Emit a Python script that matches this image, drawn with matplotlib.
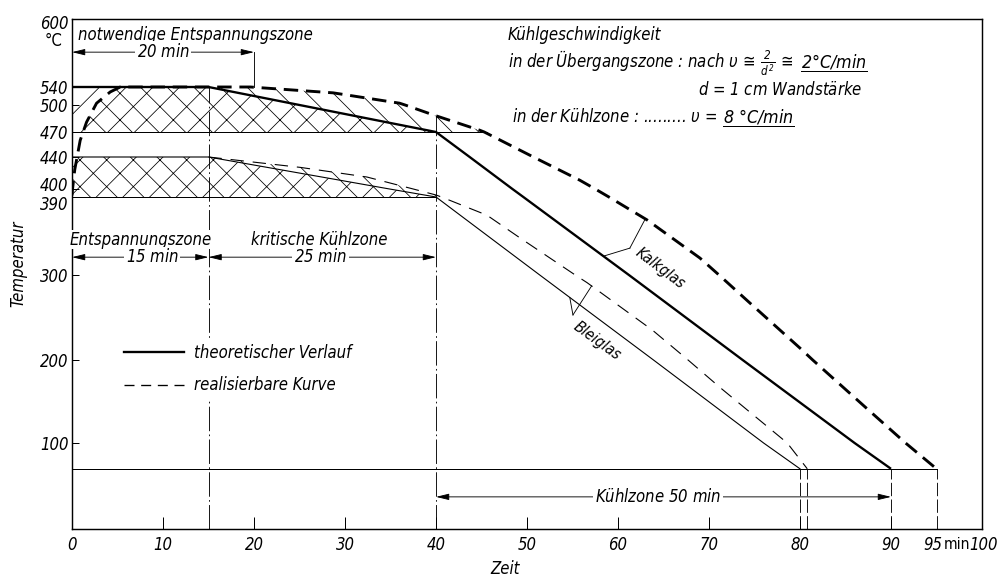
import numpy as np
import matplotlib
matplotlib.use('Agg')
import matplotlib.pyplot as plt
from matplotlib.lines import Line2D
import matplotlib.transforms as mtransforms

# ---------------- data ----------------
# schematic (non-uniform) temperature scale of the original drawing
temp_breaks = [0, 100, 200, 300, 390, 400, 440, 470, 500, 540, 600]
temp_scale = [0, 86, 169, 254, 332, 340, 372, 397, 424, 442, 510]

ytick_vals = [100, 200, 300, 390, 400, 440, 470, 500, 540, 600]
ytick_labels = ['100', '200', '300', '390', '400', '440', '470', '500', '540', '600']
xtick_vals = [0, 10, 20, 30, 40, 50, 60, 70, 80, 90, 95, 100]
xtick_labels = ['0', '10', '20', '30', '40', '50', '60', '70', '80', '90', '95', '100']

# Kalkglas
kalk_theo_t = [0, 15, 25, 40, 43.7, 48.4, 49.6, 61.2, 73.7, 86.0, 90]
kalk_theo_T = [540, 540, 500, 470, 440, 400, 390, 300, 200, 100, 70]
kalk_real_t = [0.0, 0.05, 0.3, 0.9, 1.6, 2.7, 4.2, 5.3, 19.6, 28.7, 36.0, 36.6, 39.7,
               44.8, 45.3, 50.7, 52.9, 55.8, 57.5, 59.0, 63.2, 69.0, 71.1, 74.5,
               80.0, 81.4, 87.4, 91.6, 95]
kalk_real_T = [392, 399, 424, 460, 481, 504, 529, 540, 540, 527, 504, 500, 489,
               472, 470, 440, 427.5, 411, 400, 390, 363.5, 319.6, 300, 267,
               214, 200, 141, 100, 70]
# Bleiglas
blei_theo_t = [0, 15, 34.9, 40, 51.4, 63.9, 76.0, 80]
blei_theo_T = [440, 440, 400, 390, 300, 200, 100, 70]
blei_real_t = [15, 25.1, 32.4, 37.5, 40.0, 40.6, 45.6, 49.2, 55.3, 56.6, 63.8, 67.7,
               71.2, 78.6, 80.8]
blei_real_T = [440, 427, 415, 400, 392.5, 390, 369, 343, 300, 291, 235, 200,
               167, 100, 70]

# zone boundaries / levels
kalk_low, blei_low, end_temp = 470, 390, 70
zone_times = [15, 40]
end_times = [80, 80.8, 90, 95]

# ---------------- style ----------------
DPI = 80
plt.rcParams['font.family'] = ['DejaVu Sans']
plt.rcParams['font.stretch'] = 'condensed'
plt.rcParams['font.style'] = 'italic'
plt.rcParams['mathtext.fontset'] = 'custom'
plt.rcParams['mathtext.rm'] = 'DejaVu Sans:stretch=condensed'
plt.rcParams['mathtext.it'] = 'DejaVu Sans:italic:stretch=condensed'
plt.rcParams['hatch.linewidth'] = 0.7
plt.rcParams['lines.scale_dashes'] = False
FS = 15

fig = plt.figure(figsize=(997 / DPI, 577 / DPI), dpi=DPI)
ax = fig.add_axes([72 / 997, 48 / 577, 910 / 997, 510 / 577])


def fwd(v):
    return np.interp(v, temp_breaks, temp_scale)


def inv(p):
    return np.interp(p, temp_scale, temp_breaks)


ax.set_yscale('function', functions=(fwd, inv))
ax.set_xlim(0, 100)
ax.set_ylim(0, 600)
for s in ax.spines.values():
    s.set_linewidth(1.3)

xtr = ax.get_xaxis_transform()

# ---------------- hatched zones ----------------
tg = np.linspace(0, 40, 1601)
kt = np.interp(tg, kalk_theo_t, kalk_theo_T)
kr = np.interp(tg, kalk_real_t, kalk_real_T)
bt = np.interp(tg, blei_theo_t, blei_theo_T)
br = np.interp(tg, blei_real_t, blei_real_T)
hk = dict(facecolor='none', edgecolor='black', linewidth=0)

top_both = np.minimum(kt, kr)
ax.fill_between(tg, kalk_low, top_both, where=top_both >= kalk_low, hatch='x', **hk)
low_left = np.maximum(kr, kalk_low)
ax.fill_between(tg, low_left, kt, where=(kt > low_left) & (tg < 15), hatch='/', **hk)

tg2 = np.linspace(15, 47, 1281)
kt2 = np.interp(tg2, kalk_theo_t, kalk_theo_T)
kr2 = np.interp(tg2, kalk_real_t, kalk_real_T)
lo2 = np.maximum(kt2, kalk_low)
ax.fill_between(tg2, lo2, kr2, where=kr2 > lo2, hatch='\\', **hk)

ax.fill_between(tg, blei_low, bt, hatch='x', **hk)
ax.fill_between(tg, bt, br, where=(tg >= 15) & (br > bt), hatch='\\', **hk)

# ---------------- level lines ----------------
ax.plot([0, 45.6], [kalk_low, kalk_low], color='black', lw=0.9)
ax.plot([0, 40], [blei_low, blei_low], color='black', lw=0.9)
ax.plot([0, 95], [end_temp, end_temp], color='black', lw=0.9)

dashdot = (0, (22, 3, 1.5, 3))
ax.plot([zone_times[0]] * 2, [0, 540], color='black', lw=0.8, ls=dashdot, zorder=1)
ax.plot([zone_times[1]] * 2, [0, np.interp(40, kalk_real_t, kalk_real_T)],
        color='black', lw=0.8, ls=dashdot, zorder=1)
for te in end_times:
    ax.plot([te, te], [0, end_temp], color='black', lw=0.8, ls=(0, (12, 3)), zorder=1)
ax.plot([20, 20], [fwd(540) / 510, 0.935], color='black', lw=0.8, transform=xtr)

# ---------------- curves ----------------
ax.plot(kalk_theo_t, kalk_theo_T, color='black', lw=2.1, solid_capstyle='butt', zorder=4)
ax.plot(kalk_real_t, kalk_real_T, color='black', lw=2.6, ls=(0, (13, 7)), zorder=4)
ax.plot(blei_theo_t, blei_theo_T, color='black', lw=1.0, zorder=4)
ax.plot(blei_real_t, blei_real_T, color='black', lw=1.0, ls=(0, (12, 8)), zorder=4)

# ---------------- ticks ----------------
ax.set_yticks(ytick_vals)
ax.set_yticklabels(ytick_labels, fontsize=FS)
ax.set_xticks(xtick_vals)
ax.set_xticklabels(xtick_labels, fontsize=FS)
ax.minorticks_off()
ax.tick_params(axis='y', direction='in', length=6, width=0.9, pad=3)
ax.tick_params(axis='x', direction='in', length=11, width=0.9, pad=6)
for tick in ax.xaxis.get_major_ticks():
    if tick.get_loc() in (0, 95, 100):
        tick.tick1line.set_visible(False)
for tick in ax.yaxis.get_major_ticks():
    if tick.get_loc() == 600:
        tick.tick1line.set_visible(False)
shifts = {'400': 5, '390': -6, '600': -3}
for lab in ax.get_yticklabels():
    if lab.get_text() in shifts:
        lab.set_transform(lab.get_transform() + mtransforms.ScaledTranslation(
            0, shifts[lab.get_text()] / DPI, fig.dpi_scale_trans))
for lab in ax.get_xticklabels():
    if lab.get_text() == '95':
        lab.set_transform(lab.get_transform() + mtransforms.ScaledTranslation(
            -4 / DPI, 0, fig.dpi_scale_trans))
    if lab.get_text() == '100':
        lab.set_transform(lab.get_transform() + mtransforms.ScaledTranslation(
            2 / DPI, 0, fig.dpi_scale_trans))

ax.text(97.3, -0.031, 'min', transform=xtr, ha='center', va='center', fontsize=FS - 1, style='normal')
ax.text(-0.02, 0.957, '°C', transform=ax.transAxes, ha='center', va='center', fontsize=FS, style='normal')
ax.set_ylabel('Temperatur', fontsize=FS)
ax.yaxis.set_label_coords(-0.049, 0.52)
ax.set_xlabel('Zeit', fontsize=FS)
ax.xaxis.set_label_coords(0.476, -0.06)

# ---------------- dimension arrows ----------------
aprops = dict(arrowstyle='<|-|>,head_length=0.7,head_width=0.17', lw=0.8, color='black',
              shrinkA=0, shrinkB=0, mutation_scale=14)


def dim(x0, x1, yf, label, xl):
    ax.annotate('', xy=(x0, yf), xytext=(x1, yf), xycoords=xtr, textcoords=xtr,
                arrowprops=aprops, zorder=3)
    ax.text(xl, yf, label, transform=xtr, ha='center', va='center', fontsize=FS,
            bbox=dict(facecolor='white', edgecolor='none', pad=1.5), zorder=6)


dim(0, 20, 0.935, r'20 $\mathrm{min}$', 10)
dim(0, 15, 0.533, r'15 $\mathrm{min}$', 8.8)
dim(15, 40, 0.533, r'25 $\mathrm{min}$', 27.3)
dim(40, 90, 0.063, r'Kühlzone 50 $\mathrm{min}$', 64.4)

ax.text(0.0066, 0.969, 'notwendige Entspannungszone', transform=ax.transAxes,
        ha='left', va='center', fontsize=FS)
ax.text(7.6, 0.567, 'Entspannungszone', transform=xtr, ha='center', va='center', fontsize=FS,
        bbox=dict(facecolor='white', edgecolor='none', pad=0.5))
ax.text(27.2, 0.567, 'kritische Kühlzone', transform=xtr, ha='center', va='center', fontsize=FS)

# ---------------- legend ----------------
handles = [Line2D([], [], color='black', lw=2.1),
           Line2D([], [], color='black', lw=1.2, ls=(0, (9, 6)))]
leg = ax.legend(handles, ['theoretischer Verlauf', 'realisierbare Kurve'], loc='upper left',
                bbox_to_anchor=(0.052, 0.372), fontsize=FS, handlelength=3.6,
                handletextpad=0.6, labelspacing=0.85, borderpad=0.3, borderaxespad=0,
                frameon=True, fancybox=False)
leg.get_frame().set_facecolor('white')
leg.get_frame().set_edgecolor('none')
leg.get_frame().set_alpha(1)
leg.set_zorder(5)

# ---------------- curve labels ----------------
ax.text(64.6, 308, 'Kalkglas', ha='center', va='center', rotation=-37, fontsize=FS - 1, zorder=6)
jk = (61.3, 331)
for xt, tt, TT in [(58.4, kalk_theo_t, kalk_theo_T), (63.0, kalk_real_t, kalk_real_T)]:
    ax.plot([jk[0], xt], [jk[1], np.interp(xt, tt, TT)], color='black', lw=0.8)
ax.text(57.7, 223, 'Bleiglas', ha='center', va='center', rotation=-36, fontsize=FS - 1, zorder=6)
jb = (55.05, 253)
for xt, tt, TT in [(54.7, blei_theo_t, blei_theo_T), (57.1, blei_real_t, blei_real_T)]:
    ax.plot([jb[0], xt], [jb[1], np.interp(xt, tt, TT)], color='black', lw=0.8)

# ---------------- cooling-rate annotation ----------------
ax.text(0.479, 0.969, 'Kühlgeschwindigkeit', transform=ax.transAxes, ha='left', va='center', fontsize=FS)
t1 = ax.text(0.479, 0.905,
             r'in der Übergangszone : nach $\upsilon\,\cong\,\frac{2}{d^2}\,\cong$',
             transform=ax.transAxes, ha='left', va='baseline', fontsize=FS)
ax.text(0.688, 0.861, r'$d$ = 1 $\mathrm{cm}$ Wandstärke', transform=ax.transAxes, ha='left',
        va='center', fontsize=FS)
t3 = ax.text(0.484, 0.798, r'in der Kühlzone : ......... $\upsilon$ =', transform=ax.transAxes,
             ha='left', va='baseline', fontsize=FS)

fig.canvas.draw()
r = fig.canvas.get_renderer()
inv_ax = ax.transAxes.inverted()
under = []
for t, s, gap in [(t1, r'2°C/$\mathrm{min}$', 8), (t3, r'8 °C/$\mathrm{min}$', 6)]:
    bb = t.get_window_extent(r)
    x_ax = inv_ax.transform((bb.x1 + gap, 0))[0]
    y_ax = t.get_position()[1]
    u = ax.text(x_ax, y_ax, s, transform=ax.transAxes, ha='left', va='baseline', fontsize=FS + 1)
    under.append(u)
fig.canvas.draw()
inv_fig = fig.transFigure.inverted()
for u in under:
    bb = u.get_window_extent(r)
    base = ax.transAxes.transform(u.get_position())[1]
    p0 = inv_fig.transform((bb.x0, base - 4))
    p1 = inv_fig.transform((bb.x1, base - 4))
    fig.add_artist(Line2D([p0[0], p1[0]], [p0[1], p1[1]], color='black', lw=0.9))

fig.savefig('out.png', dpi=DPI)
